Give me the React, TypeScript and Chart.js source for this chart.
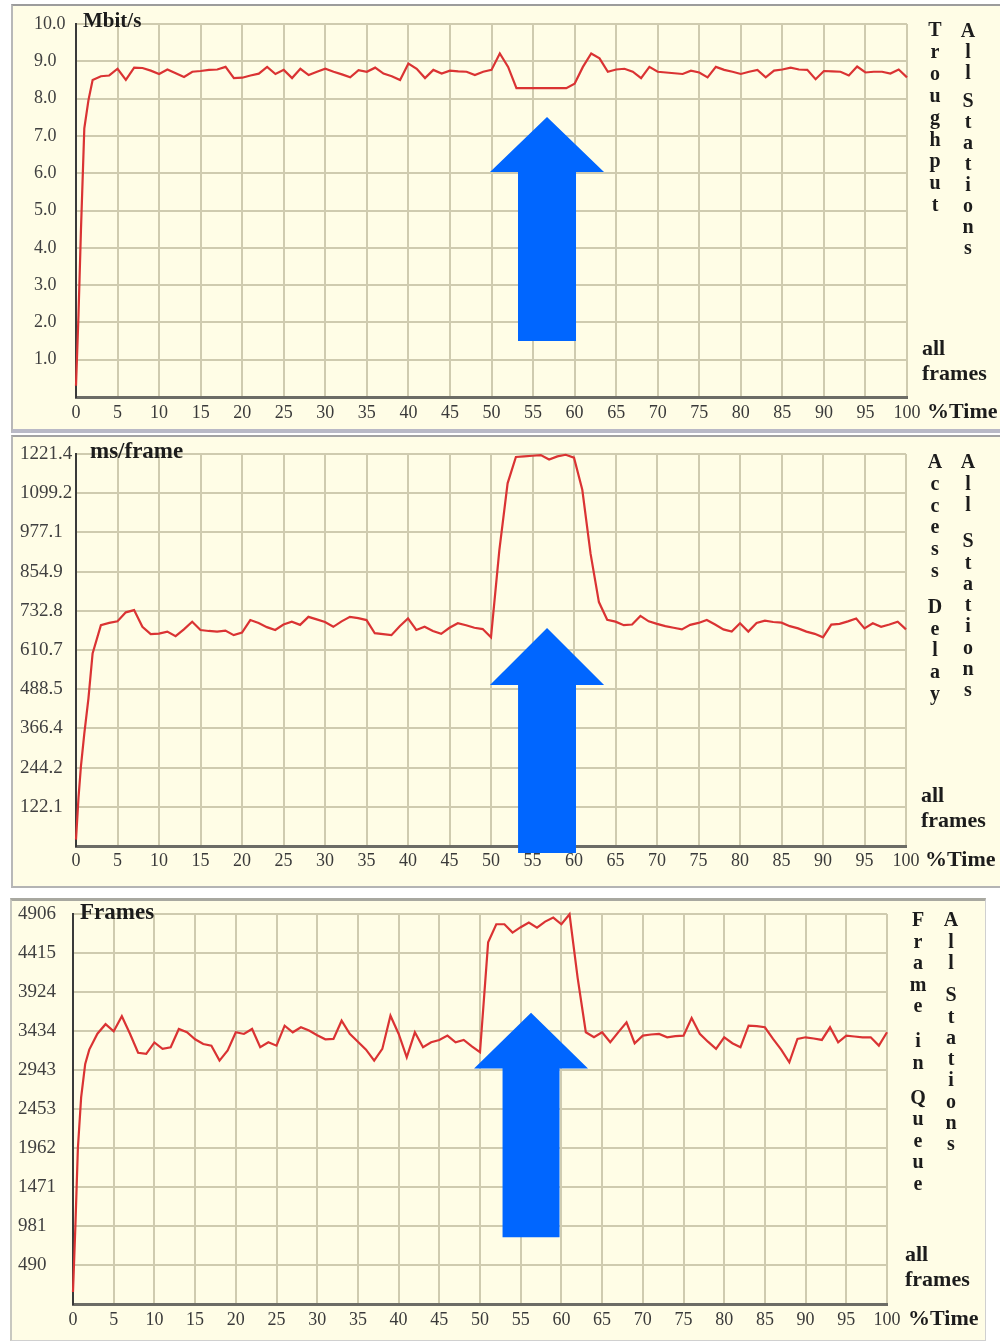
import React, { useEffect, useRef } from 'react';
import { Chart, registerables } from 'chart.js';

Chart.register(...registerables);

const SERIF = "'Liberation Serif', 'Times New Roman', 'DejaVu Serif', serif";
const CREAM = '#fffde6';
const GRID = '#cfcbaf';

// ---- data ----
const timePct = [
  0, 0.3, 0.6, 1, 1.5, 2,
  3, 4, 5, 6, 7, 8, 9, 10,
  11, 12, 13, 14, 15, 16, 17, 18, 19, 20,
  21, 22, 23, 24, 25, 26, 27, 28, 29, 30,
  31, 32, 33, 34, 35, 36, 37, 38, 39, 40,
  41, 42, 43, 44, 45, 46, 47, 48, 49, 50,
  51, 52, 53, 54, 55, 56, 57, 58, 59, 60,
  61, 62, 63, 64, 65, 66, 67, 68, 69, 70,
  71, 72, 73, 74, 75, 76, 77, 78, 79, 80,
  81, 82, 83, 84, 85, 86, 87, 88, 89, 90,
  91, 92, 93, 94, 95, 96, 97, 98, 99, 100,
];

const throughputMbit = [
  0.3, 2.2, 4.5, 7.2, 7.96, 8.5,
  8.6, 8.62, 8.8, 8.5, 8.83, 8.82, 8.75, 8.66,
  8.78, 8.68, 8.58, 8.72, 8.74, 8.77, 8.78, 8.85, 8.55, 8.56,
  8.62, 8.67, 8.85, 8.66, 8.77, 8.55, 8.8, 8.63, 8.72, 8.8,
  8.72, 8.65, 8.57, 8.76, 8.72, 8.83, 8.67, 8.6, 8.5, 8.94,
  8.8, 8.55, 8.77, 8.67, 8.75, 8.73, 8.72, 8.63, 8.72, 8.77,
  9.21, 8.85, 8.28, 8.28, 8.28, 8.28, 8.28, 8.28, 8.28, 8.4,
  8.85, 9.21, 9.08, 8.72, 8.78, 8.8, 8.72, 8.55, 8.85, 8.72,
  8.7, 8.68, 8.66, 8.75, 8.7, 8.57, 8.85, 8.77, 8.72, 8.66,
  8.72, 8.77, 8.57, 8.75, 8.78, 8.83, 8.78, 8.77, 8.52, 8.74,
  8.73, 8.72, 8.62, 8.86, 8.7, 8.72, 8.72, 8.67, 8.78, 8.57,
];

const accessDelayMs = [
  20, 150, 250, 350, 460, 600,
  688, 695, 700, 728, 735, 683, 660, 662,
  668, 654, 675, 699, 673, 670, 668, 671, 657, 665,
  704, 695, 682, 673, 690, 699, 689, 714, 706, 698,
  683, 700, 714, 710, 704, 663, 660, 657, 685, 709,
  673, 683, 670, 661, 680, 694, 688, 680, 676, 650,
  920, 1130, 1212, 1214, 1216, 1218, 1204, 1214, 1219, 1210,
  1110, 910, 760, 705, 699, 688, 690, 717, 700, 692,
  685, 680, 675, 689, 695, 704, 690, 675, 668, 694,
  668, 695, 702, 698, 696, 685, 678, 668, 661, 650,
  690, 692, 700, 709, 678, 694, 683, 690, 699, 675,
];

const framesInQueue = [
  150, 1000, 1960, 2600, 3020, 3200,
  3400, 3520, 3430, 3620, 3400, 3160, 3146, 3290,
  3209, 3230, 3460, 3418, 3330, 3271, 3250, 3062, 3190, 3418,
  3397, 3460, 3230, 3292, 3250, 3501, 3418, 3481, 3440, 3380,
  3330, 3334, 3564, 3400, 3300, 3200, 3062, 3209, 3627, 3400,
  3104, 3418, 3230, 3292, 3320, 3376, 3292, 3322, 3240, 3167,
  4550, 4777, 4777, 4672, 4740, 4798, 4735, 4810, 4861, 4777,
  4903, 4100, 3418, 3355, 3418, 3292, 3420, 3543, 3280, 3376,
  3390, 3397, 3355, 3370, 3376, 3598, 3400, 3300, 3209, 3355,
  3280, 3230, 3501, 3495, 3481, 3334, 3200, 3041, 3334, 3355,
  3340, 3322, 3481, 3292, 3376, 3365, 3355, 3355, 3250, 3418,
];

const xTickValues = [0, 5, 10, 15, 20, 25, 30, 35, 40, 45, 50, 55, 60, 65, 70, 75, 80, 85, 90, 95, 100];

const throughputTickLabels = ['', '1.0', '2.0', '3.0', '4.0', '5.0', '6.0', '7.0', '8.0', '9.0', '10.0'];
const delayTickLabels = ['', '122.1', '244.2', '366.4', '488.5', '610.7', '732.8', '854.9', '977.1', '1099.2', '1221.4'];
const queueTickLabels = ['', '490', '981', '1471', '1962', '2453', '2943', '3434', '3924', '4415', '4906'];

// ---- arrow annotation plugin (positions given in data units) ----
const arrowPlugin = {
  id: 'arrowMark',
  afterDraw(chart: any, _args: any, opts: any) {
    if (!opts || opts.x == null) return;
    const xs = chart.scales.x;
    const ys = chart.scales.y;
    const ctx = chart.ctx;
    const cx = xs.getPixelForValue(opts.x);
    const hw = xs.getPixelForValue(opts.x + opts.headHalf) - cx;
    const sw = xs.getPixelForValue(opts.x + opts.shaftHalf) - cx;
    const tip = ys.getPixelForValue(opts.tip);
    const base = ys.getPixelForValue(opts.base);
    const tail = ys.getPixelForValue(opts.tail);
    ctx.save();
    ctx.fillStyle = opts.color;
    ctx.beginPath();
    ctx.moveTo(cx, tip);
    ctx.lineTo(cx + hw, base);
    ctx.lineTo(cx + sw, base);
    ctx.lineTo(cx + sw, tail);
    ctx.lineTo(cx - sw, tail);
    ctx.lineTo(cx - sw, base);
    ctx.lineTo(cx - hw, base);
    ctx.closePath();
    ctx.fill();
    ctx.restore();
  },
};

type Geom = { labelLeft: number; axisLeft: number; plotRight: number; plotTop: number; plotBottom: number; xPad: number; yFont: number };

function TraceChart(props: {
  top: number; height: number; ys: number[]; tickLabels: string[]; yMax: number; geom: Geom; arrow: any;
}) {
  const ref = useRef<HTMLCanvasElement>(null);
  useEffect(() => {
    const g = props.geom;
    const tickValues = props.tickLabels.map((l) => (l === '' ? 0 : Number(l)));
    const chart = new Chart(ref.current as HTMLCanvasElement, {
      type: 'line',
      data: {
        datasets: [
          {
            data: timePct.map((x, i) => ({ x, y: props.ys[i] })),
            borderColor: '#da3333',
            borderWidth: 2.2,
            pointRadius: 0,
            tension: 0,
            fill: false,
            clip: 6,
          },
        ],
      },
      options: {
        animation: false,
        responsive: false,
        events: [],
        layout: { padding: { left: g.labelLeft, right: 1000 - g.plotRight, top: g.plotTop, bottom: 0 } },
        plugins: {
          legend: { display: false },
          tooltip: { enabled: false },
          arrowMark: props.arrow,
        } as any,
        scales: {
          x: {
            type: 'linear',
            min: 0,
            max: 100,
            afterBuildTicks: (s: any) => {
              s.ticks = xTickValues.map((v) => ({ value: v }));
            },
            afterFit: (s: any) => {
              s.height = props.height - g.plotBottom;
            },
            ticks: {
              autoSkip: false,
              maxRotation: 0,
              padding: g.xPad,
              color: '#3a3a3a',
              font: { family: SERIF, size: 18 },
              callback: (v: any) => String(v),
            },
            grid: { color: GRID, lineWidth: 2, drawTicks: false },
            border: { color: '#6c6c66', width: 3 },
          },
          y: {
            type: 'linear',
            min: 0,
            max: props.yMax,
            afterBuildTicks: (s: any) => {
              s.ticks = tickValues.map((v) => ({ value: v }));
            },
            afterFit: (s: any) => {
              s.width = g.axisLeft - g.labelLeft;
            },
            ticks: {
              crossAlign: 'far',
              padding: 0,
              color: '#404040',
              font: { family: SERIF, size: g.yFont },
              callback: (_v: any, i: number) => props.tickLabels[i],
            },
            grid: { color: GRID, lineWidth: 2, drawTicks: false },
            border: { color: '#3a3a3a', width: 2 },
          },
        },
      } as any,
      plugins: [arrowPlugin as any],
    });
    return () => chart.destroy();
  }, []);
  return (
    <canvas
      ref={ref}
      width={1000}
      height={props.height}
      style={{ position: 'absolute', left: 0, top: props.top, display: 'block' }}
    />
  );
}

function Label(props: { x: number; cy: number; size: number; text: string }) {
  return (
    <div
      style={{
        position: 'absolute',
        left: props.x,
        top: props.cy - props.size * 0.58,
        fontFamily: SERIF,
        fontWeight: 'bold',
        fontSize: props.size,
        lineHeight: `${props.size}px`,
        color: '#1c1c1c',
        whiteSpace: 'nowrap',
      }}
    >
      {props.text}
    </div>
  );
}

function VText(props: { cx: number; cy0: number; step: number; gap: number; text: string }) {
  const items: React.ReactNode[] = [];
  props.text.split('').forEach((ch, i) => {
    if (ch === ' ') {
      items.push(<div key={i} style={{ height: props.gap }} />);
    } else {
      items.push(
        <div key={i} style={{ height: props.step, lineHeight: `${props.step}px` }}>
          {ch}
        </div>
      );
    }
  });
  return (
    <div
      style={{
        position: 'absolute',
        left: props.cx - 12,
        width: 24,
        top: props.cy0 - props.step / 2,
        textAlign: 'center',
        fontFamily: SERIF,
        fontWeight: 'bold',
        fontSize: 20,
        color: '#1c1c1c',
      }}
    >
      {items}
    </div>
  );
}

export default function App() {
  return (
    <div
      style={{
        position: 'absolute',
        left: 0,
        top: 0,
        width: 1000,
        height: 1342,
        overflow: 'hidden',
        background: '#ffffff',
      }}
    >
      {/* panel backgrounds */}
      <div
        style={{
          position: 'absolute', left: 11, top: 4, width: 995, height: 429, boxSizing: 'border-box',
          background: CREAM, borderTop: '2px solid #9c9c9c', borderLeft: '2px solid #b8b8b8', borderBottom: '4px solid #b9b9c6',
        }}
      />
      <div
        style={{
          position: 'absolute', left: 11, top: 435, width: 995, height: 453, boxSizing: 'border-box',
          background: CREAM, borderTop: '2px solid #a2a2a2', borderLeft: '2px solid #b8b8b8', borderBottom: '2px solid #b4b4b4',
        }}
      />
      <div
        style={{
          position: 'absolute', left: 10, top: 898, width: 976, height: 443, boxSizing: 'border-box',
          background: CREAM, borderTop: '3px solid #a8a8a0', borderLeft: '2px solid #c8c8c0', borderRight: '1px solid #d0d0d0', borderBottom: '1px solid #d0d0d0',
        }}
      />

      <TraceChart
        top={5}
        height={427}
        ys={throughputMbit}
        tickLabels={throughputTickLabels}
        yMax={10}
        geom={{ labelLeft: 34, axisLeft: 76, plotRight: 907, plotTop: 19, plotBottom: 392, xPad: 5, yFont: 18 }}
        arrow={{ x: 56.68, headHalf: 6.86, shaftHalf: 3.49, tip: 7.51, base: 6.03, tail: 1.5, color: '#0066ff' }}
      />
      <TraceChart
        top={436}
        height={450}
        ys={accessDelayMs}
        tickLabels={delayTickLabels}
        yMax={1221.4}
        geom={{ labelLeft: 20, axisLeft: 76, plotRight: 906, plotTop: 18, plotBottom: 410, xPad: 4, yFont: 19 }}
        arrow={{ x: 56.75, headHalf: 6.87, shaftHalf: 3.49, tip: 679, base: 502, tail: -22, color: '#0066ff' }}
      />
      <TraceChart
        top={899}
        height={441}
        ys={framesInQueue}
        tickLabels={queueTickLabels}
        yMax={4906}
        geom={{ labelLeft: 18, axisLeft: 73, plotRight: 887, plotTop: 15, plotBottom: 405, xPad: 5, yFont: 19 }}
        arrow={{ x: 56.27, headHalf: 7.0, shaftHalf: 3.5, tip: 3664, base: 2961, tail: 841, color: '#0066ff' }}
      />

      {/* unit labels */}
      <Label x={83} cy={22} size={21} text="Mbit/s" />
      <Label x={90} cy={452} size={23} text="ms/frame" />
      <Label x={80} cy={913} size={23} text="Frames" />

      {/* side labels */}
      <VText cx={935} cy0={30} step={21.9} gap={0} text="Troughput" />
      <VText cx={968} cy0={30} step={21} gap={7} text="All Stations" />
      <Label x={922} cy={350} size={22} text="all" />
      <Label x={922} cy={375} size={22} text="frames" />
      <Label x={927} cy={413} size={22} text="%Time" />

      <VText cx={935} cy0={462} step={21.8} gap={14} text="Access Delay" />
      <VText cx={968} cy0={462} step={21.3} gap={15} text="All Stations" />
      <Label x={921} cy={797} size={22} text="all" />
      <Label x={921} cy={822} size={22} text="frames" />
      <Label x={925} cy={861} size={22} text="%Time" />

      <VText cx={918} cy0={920} step={21.5} gap={13.5} text="Frame in Queue" />
      <VText cx={951} cy0={920} step={21.3} gap={11} text="All Stations" />
      <Label x={905} cy={1256} size={22} text="all" />
      <Label x={905} cy={1281} size={22} text="frames" />
      <Label x={908} cy={1320} size={22} text="%Time" />
    </div>
  );
}
